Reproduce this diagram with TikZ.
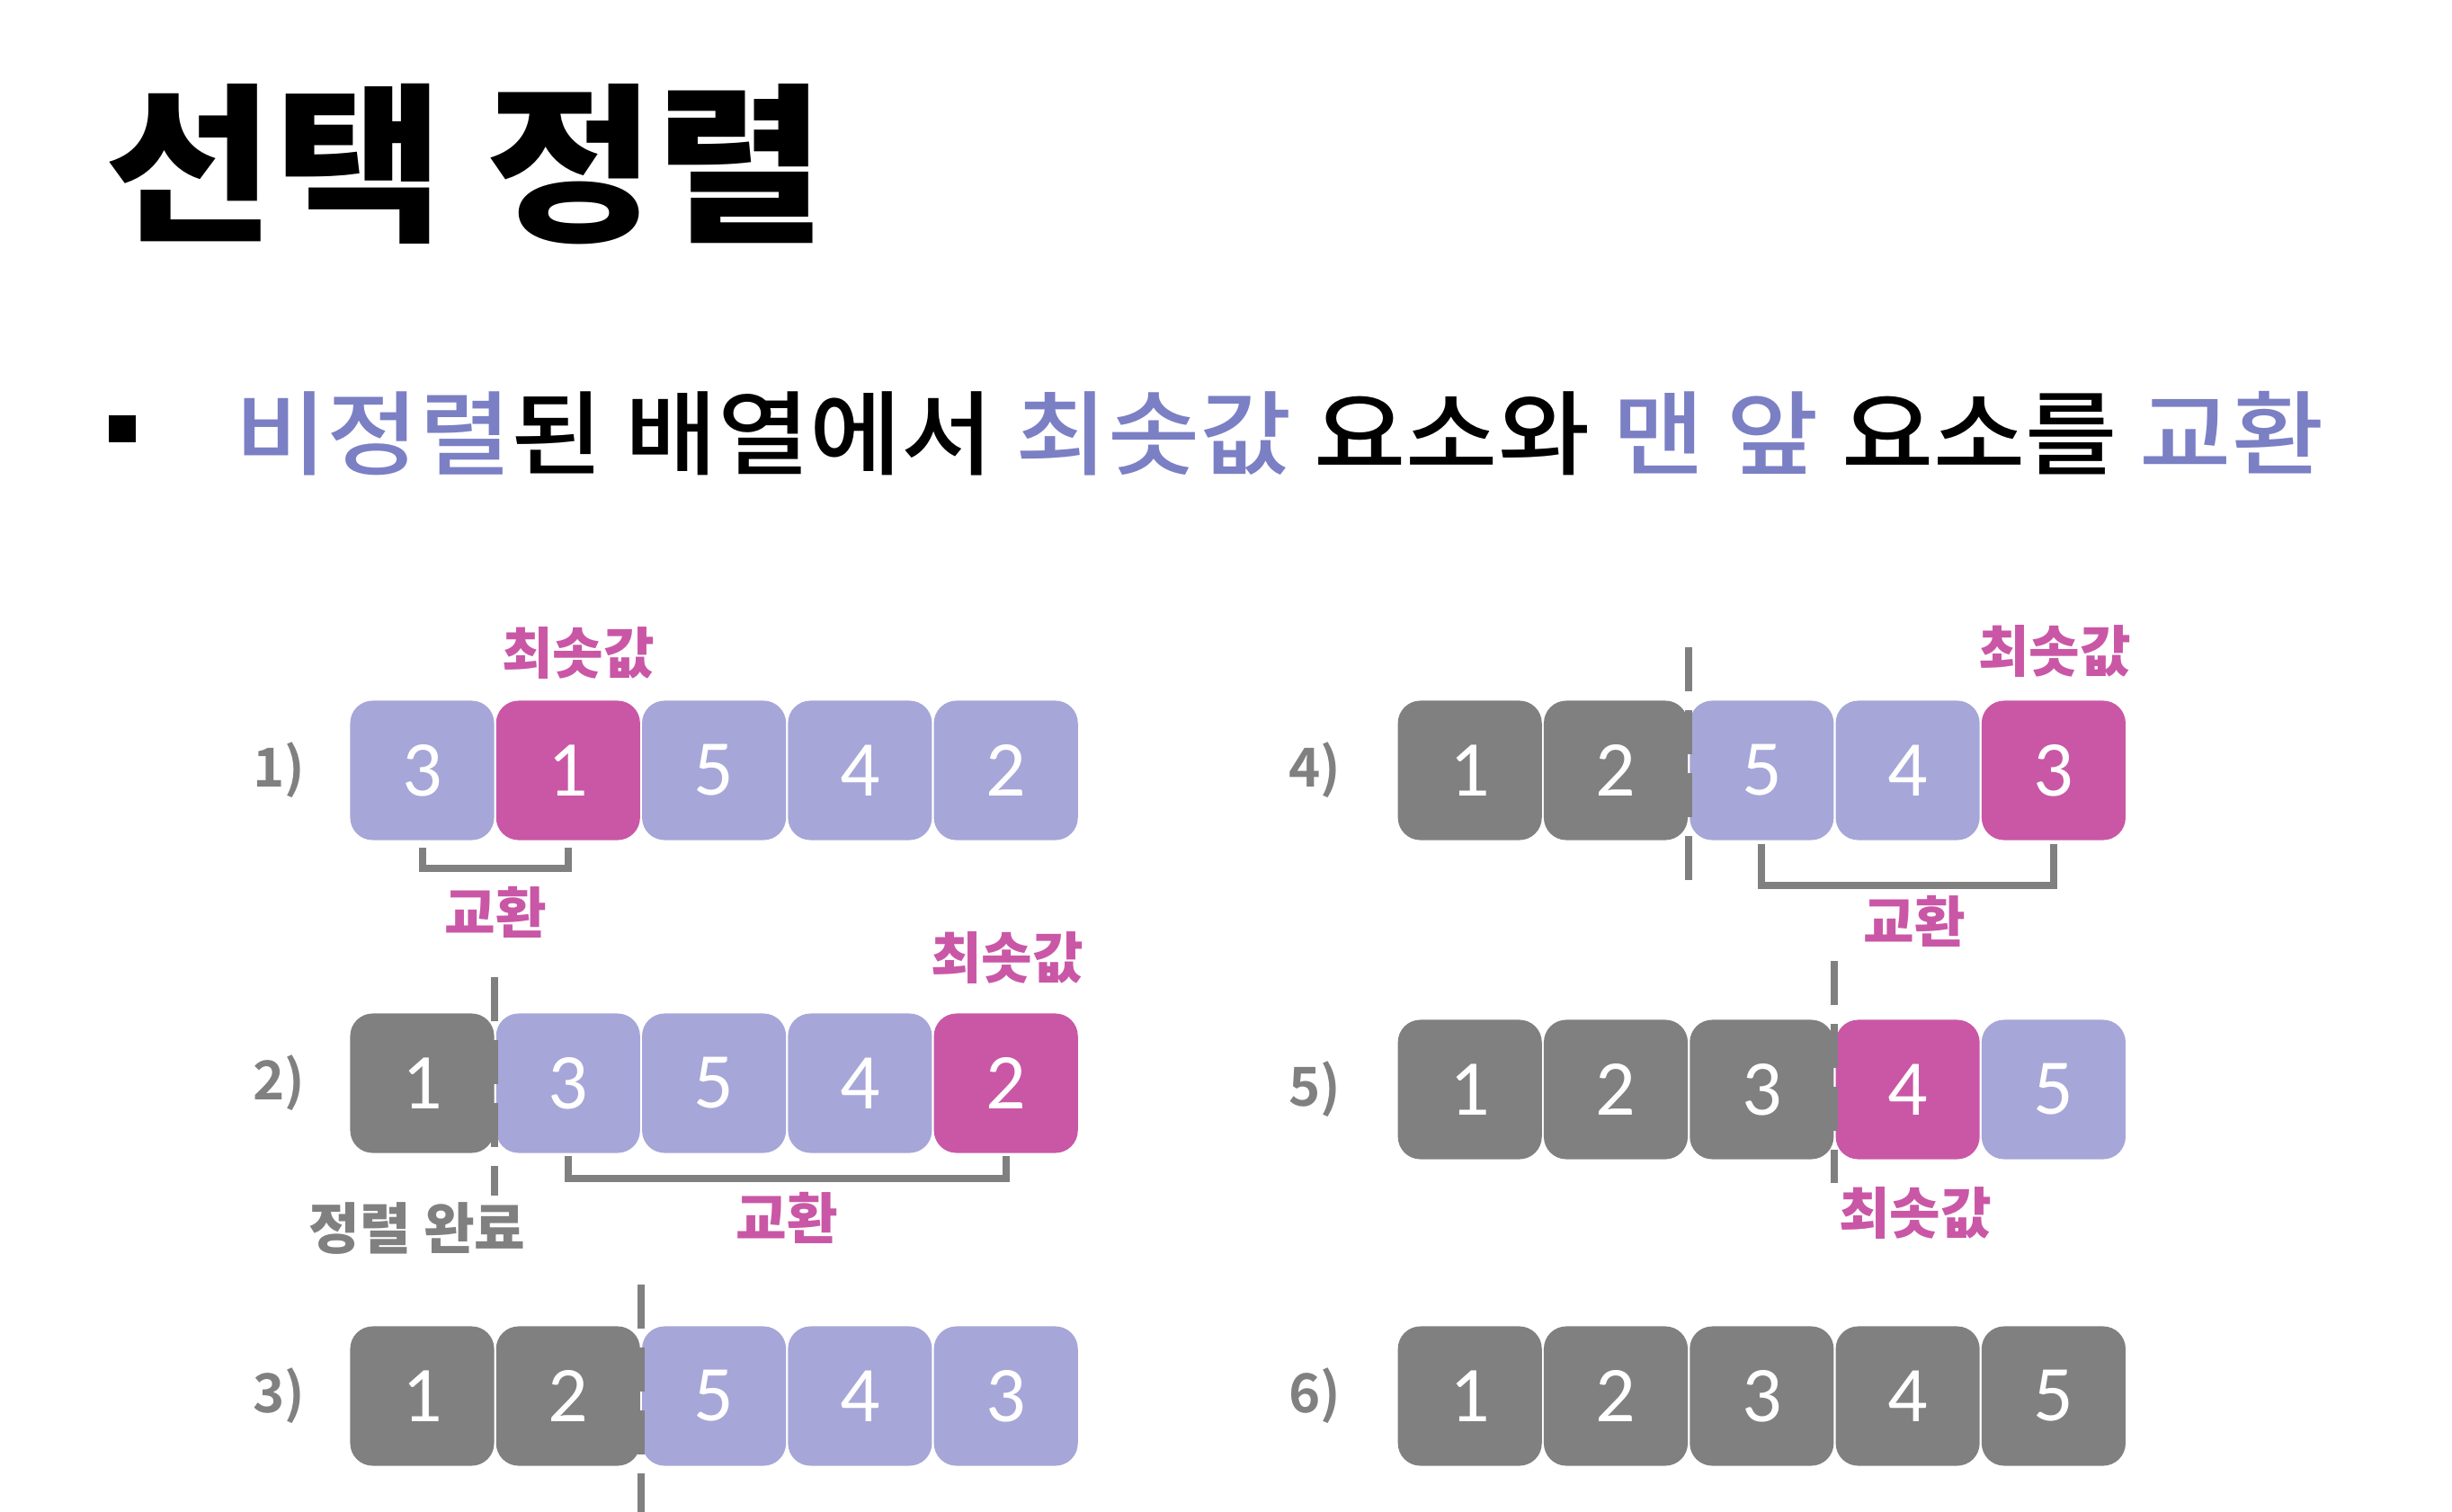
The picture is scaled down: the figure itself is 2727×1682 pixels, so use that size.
\documentclass[tikz,border=0pt]{standalone}
\usepackage{fontspec}
\newfontfamily\krfont{Noto Sans CJK KR Medium}[FakeStretch=1.09]
\newfontfamily\krbold{Noto Sans CJK KR Bold}
\newfontfamily\krheavy{Noto Sans CJK KR Black}
\newfontfamily\krtitle{Noto Sans CJK KR Black}[FakeStretch=1.08]
\newfontfamily\numfont{Carlito}
\definecolor{lav}{HTML}{A6A6D8}
\definecolor{pink}{HTML}{C957A6}
\definecolor{sorted}{HTML}{808080}
\definecolor{hl}{HTML}{7B7FC4}
\tikzset{
    every node/.style = {inner sep=0pt},
    cell/.style = {rounded corners=0.25cm, minimum width=1.6cm, minimum height=1.55cm,
        text=white, font=\numfont\fontsize{25}{25}\selectfont},
    todo/.style = {cell, fill=lav},
    done/.style = {cell, fill=sorted},
    pick/.style = {cell, fill=pink},
    rowlabel/.style = {text=sorted, font=\krbold\fontsize{17}{17}\selectfont},
    tag/.style = {text=pink, font=\krheavy\fontsize{17.5}{17.5}\selectfont},
    bracket/.style = {draw=sorted, line width=0.08cm},
    divider/.style = {draw=sorted, line width=0.08cm, dash pattern=on 0.49cm off 0.21cm}
}

\begin{document}
\begin{tikzpicture}[x=0.01cm, y=-0.01cm]
    \fill[white] (0,0) rectangle (2727,1682);
    \useasboundingbox (0,0) rectangle (2727,1682);

    \node[anchor=west, font=\krtitle\fontsize{54}{54}\selectfont] (title) at (116,183) {선택 정렬};
    \node[fill=black, minimum size=0.29cm] (dot) at (136,477) {};
    \node[anchor=west, font=\krfont\fontsize{29}{29}\selectfont] (lead) at (261,482)
        {{\color{hl}비정렬}된 배열에서 {\color{hl}최솟값} 요소와 {\color{hl}맨 앞} 요소를 {\color{hl}교환}};

    % left column
    \node[rowlabel] (l1) at (310,857) {1)};
    \node[todo] (a1) at (469.5,857) {3};
    \node[pick] (a2) at (631.8,857) {1};
    \node[todo] (a3) at (794.1,857) {5};
    \node[todo] (a4) at (956.4,857) {4};
    \node[todo] (a5) at (1118.7,857) {2};

    \node[rowlabel] (l2) at (310,1205) {2)};
    \node[done] (b1) at (469.5,1205) {1};
    \node[todo] (b2) at (631.8,1205) {3};
    \node[todo] (b3) at (794.1,1205) {5};
    \node[todo] (b4) at (956.4,1205) {4};
    \node[pick] (b5) at (1118.7,1205) {2};

    \node[rowlabel] (l3) at (310,1553) {3)};
    \node[done] (c1) at (469.5,1553) {1};
    \node[done] (c2) at (631.8,1553) {2};
    \node[todo] (c3) at (794.1,1553) {5};
    \node[todo] (c4) at (956.4,1553) {4};
    \node[todo] (c5) at (1118.7,1553) {3};

    % right column
    \node[rowlabel] (l4) at (1462,857) {4)};
    \node[done] (d1) at (1634.7,857) {1};
    \node[done] (d2) at (1797,857) {2};
    \node[todo] (d3) at (1959.3,857) {5};
    \node[todo] (d4) at (2121.6,857) {4};
    \node[pick] (d5) at (2283.9,857) {3};

    \node[rowlabel] (l5) at (1462,1212) {5)};
    \node[done] (e1) at (1634.7,1212) {1};
    \node[done] (e2) at (1797,1212) {2};
    \node[done] (e3) at (1959.3,1212) {3};
    \node[pick] (e4) at (2121.6,1212) {4};
    \node[todo] (e5) at (2283.9,1212) {5};

    \node[rowlabel] (l6) at (1462,1553) {6)};
    \node[done] (f1) at (1634.7,1553) {1};
    \node[done] (f2) at (1797,1553) {2};
    \node[done] (f3) at (1959.3,1553) {3};
    \node[done] (f4) at (2121.6,1553) {4};
    \node[done] (f5) at (2283.9,1553) {5};

    % labels
    \node[tag] (min1) at (643,726) {최솟값};
    \node[tag] (swap1) at (551,1015) {교환};
    \node[tag] (min2) at (1120,1065) {최솟값};
    \node[tag] (swap2) at (875,1355) {교환};
    \node[tag, text=sorted] (fixed2) at (464,1367) {정렬 완료};
    \node[tag] (min4) at (2285,724) {최솟값};
    \node[tag] (swap4) at (2129,1025) {교환};
    \node[tag] (min5) at (2130,1349) {최솟값};

    % swaps
    \draw[bracket] ([yshift=-0.08cm]a1.south) -- ++(0,23) -| ([yshift=-0.08cm]a2.south);
    \draw[bracket] ([yshift=-0.03cm]b2.south) -- ++(0,25) -| ([yshift=-0.03cm]b5.south);
    \draw[bracket] ([yshift=-0.04cm]d3.south) -- ++(0,46) -| ([yshift=-0.04cm]d5.south);

    % sorted part
    \draw[divider] (549.5,1087) -- (549.5,1330);
    \draw[divider] (712.5,1429) -- (712.5,1682);
    \draw[divider] (1877.5,720) -- (1877.5,988);
    \draw[divider] (2040,1069) -- (2040,1316);
\end{tikzpicture}
\end{document}
